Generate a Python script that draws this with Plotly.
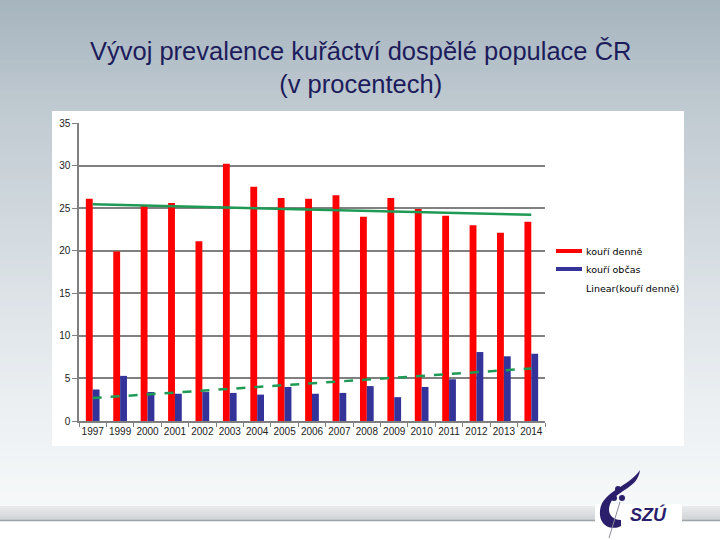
import numpy as np
import plotly.graph_objects as go

years = ["1997", "1999", "2000", "2001", "2002", "2003", "2004", "2005", "2006",
         "2007", "2008", "2009", "2010", "2011", "2012", "2013", "2014"]
daily = [26.1, 19.9, 25.3, 25.6, 21.1, 30.2, 27.5, 26.2, 26.1,
         26.5, 24.0, 26.2, 24.9, 24.1, 23.0, 22.1, 23.4]
occasional = [3.7, 5.3, 3.4, 3.2, 3.4, 3.3, 3.1, 4.0, 3.2,
              3.3, 4.1, 2.8, 4.0, 4.9, 8.1, 7.6, 7.9]
y_ticks = [0, 5, 10, 15, 20, 25, 30, 35]

idx = np.arange(len(years))
trend_daily = np.polyval(np.polyfit(idx, daily, 1), idx)
trend_occ = np.polyval(np.polyfit(idx, occasional, 1), idx)

W, H = 720, 540
L, R, T, B = 79, 545, 123, 421


def px(x):
    return (x - L) / (R - L)


def py(y):
    return (B - y) / (B - T)


def lerp(c1, c2, t):
    return tuple(int(round(a + (b - a) * t)) for a, b in zip(c1, c2))


stops = [(0, (166, 180, 190)), (110, (192, 202, 209)), (250, (214, 221, 226)),
         (400, (235, 239, 242)), (506, (246, 248, 249))]

shapes = []
step = 6
for y0 in range(0, 506, step):
    y1 = min(y0 + step, 506)
    ym = (y0 + y1) / 2
    for (a, ca), (b, cb) in zip(stops[:-1], stops[1:]):
        if a <= ym <= b:
            c = lerp(ca, cb, (ym - a) / (b - a))
            break
    shapes.append(dict(type="rect", xref="paper", yref="paper", layer="below",
                       x0=px(0), x1=px(W), y0=py(y0), y1=py(y1 + 0.5),
                       line=dict(width=0), fillcolor="rgb(%d,%d,%d)" % c))
for y0 in range(506, 520, 2):
    t = (y0 - 506) / 14
    c = lerp((232, 234, 236), (206, 209, 212), t)
    shapes.append(dict(type="rect", xref="paper", yref="paper", layer="below",
                       x0=px(0), x1=px(W), y0=py(y0), y1=py(y0 + 2.5),
                       line=dict(width=0), fillcolor="rgb(%d,%d,%d)" % c))
shapes.append(dict(type="line", xref="paper", yref="paper", layer="below",
                   x0=px(0), x1=px(W), y0=py(520.5), y1=py(520.5),
                   line=dict(color="#9ea3a8", width=1.5)))
shapes.append(dict(type="rect", xref="paper", yref="paper", layer="below",
                   x0=px(595), x1=px(682), y0=py(504), y1=py(540),
                   line=dict(width=0), fillcolor="white"))
shapes.append(dict(type="rect", xref="paper", yref="paper", layer="below",
                   x0=px(52), x1=px(684), y0=py(111), y1=py(446),
                   line=dict(width=0), fillcolor="white"))


def path(points):
    s = ""
    for cmd, coords in points:
        s += cmd + " " + " ".join("%.4f,%.4f" % (px(x), py(y)) for x, y in coords) + " "
    return s + "Z"


navy = "#2b1f6b"
logo = path([("M", [(640, 470)]),
             ("C", [(628, 488), (598, 492), (600, 515)]),
             ("C", [(601, 528), (614, 530), (621, 526)]),
             ("L", [(621, 520)]),
             ("C", [(611, 520), (606, 512), (611, 502)]),
             ("C", [(618, 490), (638, 488), (640, 470)])])
shapes.append(dict(type="path", xref="paper", yref="paper", path=logo,
                   fillcolor=navy, line=dict(width=0)))
for cx, cy in [(618, 489), (614, 498), (622, 498)]:
    shapes.append(dict(type="circle", xref="paper", yref="paper",
                       x0=px(cx - 3), x1=px(cx + 3), y0=py(cy + 3), y1=py(cy - 3),
                       fillcolor=navy, line=dict(width=0)))
shapes.append(dict(type="line", xref="paper", yref="paper",
                   x0=px(620), y0=py(502), x1=px(609), y1=py(538),
                   line=dict(color="#8a8a9a", width=1)))

shapes.append(dict(type="line", xref="paper", yref="paper",
                   x0=px(556), x1=px(582), y0=py(251), y1=py(251),
                   line=dict(color="#ff0000", width=4)))
shapes.append(dict(type="line", xref="paper", yref="paper",
                   x0=px(556), x1=px(582), y0=py(269), y1=py(269),
                   line=dict(color="#333399", width=4)))

fig = go.Figure()
fig.add_trace(go.Bar(x=years, y=daily, name="kouří denně",
                     marker=dict(color="#ff0000", line=dict(width=0))))
fig.add_trace(go.Bar(x=years, y=occasional, name="kouří občas",
                     marker=dict(color="#333399", line=dict(width=0))))
fig.add_trace(go.Scatter(x=years, y=trend_daily, mode="lines",
                         name="Linear(kouří denně)",
                         line=dict(color="#1f9a55", width=2.5)))
fig.add_trace(go.Scatter(x=years, y=trend_occ, mode="lines",
                         name="Linear(kouří občas)",
                         line=dict(color="#1f9a55", width=2.5, dash="dash")))

leg_font = dict(family="DejaVu Sans", size=9.5, color="black")
annotations = [
    dict(text="Vývoj prevalence kuřáctví dospělé populace ČR<br>(v procentech)",
         xref="paper", yref="paper", x=px(360), y=py(67), xanchor="center",
         yanchor="middle", showarrow=False,
         font=dict(family="Liberation Sans, Arial", size=25.5, color="#1c1c5c")),
    dict(text="kouří denně", xref="paper", yref="paper", x=px(584), y=py(251),
         xanchor="left", yanchor="middle", showarrow=False, font=leg_font),
    dict(text="kouří občas", xref="paper", yref="paper", x=px(584), y=py(269),
         xanchor="left", yanchor="middle", showarrow=False, font=leg_font),
    dict(text="Linear(kouří denně)", xref="paper", yref="paper", x=px(584), y=py(288),
         xanchor="left", yanchor="middle", showarrow=False, font=leg_font),
    dict(text="<b><i>SZÚ</i></b>", xref="paper", yref="paper", x=px(648), y=py(514),
         xanchor="center", yanchor="middle", showarrow=False,
         font=dict(family="Liberation Sans, Arial", size=18, color=navy)),
]

fig.update_layout(
    width=W, height=H,
    margin=dict(l=L, r=W - R, t=T, b=H - B, pad=0),
    paper_bgcolor="white",
    plot_bgcolor="rgba(0,0,0,0)",
    barmode="group", bargap=0.5, bargroupgap=0.0,
    showlegend=False,
    shapes=shapes,
    annotations=annotations,
    font=dict(family="Liberation Sans, Arial", size=10, color="#222222"),
    xaxis=dict(type="category", showgrid=False, showline=True,
               linecolor="#808080", linewidth=1.5, ticks="outside",
               tickson="boundaries", ticklen=4, tickcolor="#808080",
               tickangle=0,
               tickfont=dict(size=10, color="#222222")),
    yaxis=dict(range=[0, 35], tickvals=y_ticks, showgrid=True,
               gridcolor="#808080", gridwidth=1.5, showline=True,
               linecolor="#808080", linewidth=1.5, ticks="outside",
               ticklen=5, tickcolor="#808080", zeroline=False,
               tickfont=dict(size=10, color="#222222")),
)

fig.write_html("out.html", config={"displayModeBar": False},
               post_script="document.body.style.margin='0';document.body.style.overflow='hidden';")
